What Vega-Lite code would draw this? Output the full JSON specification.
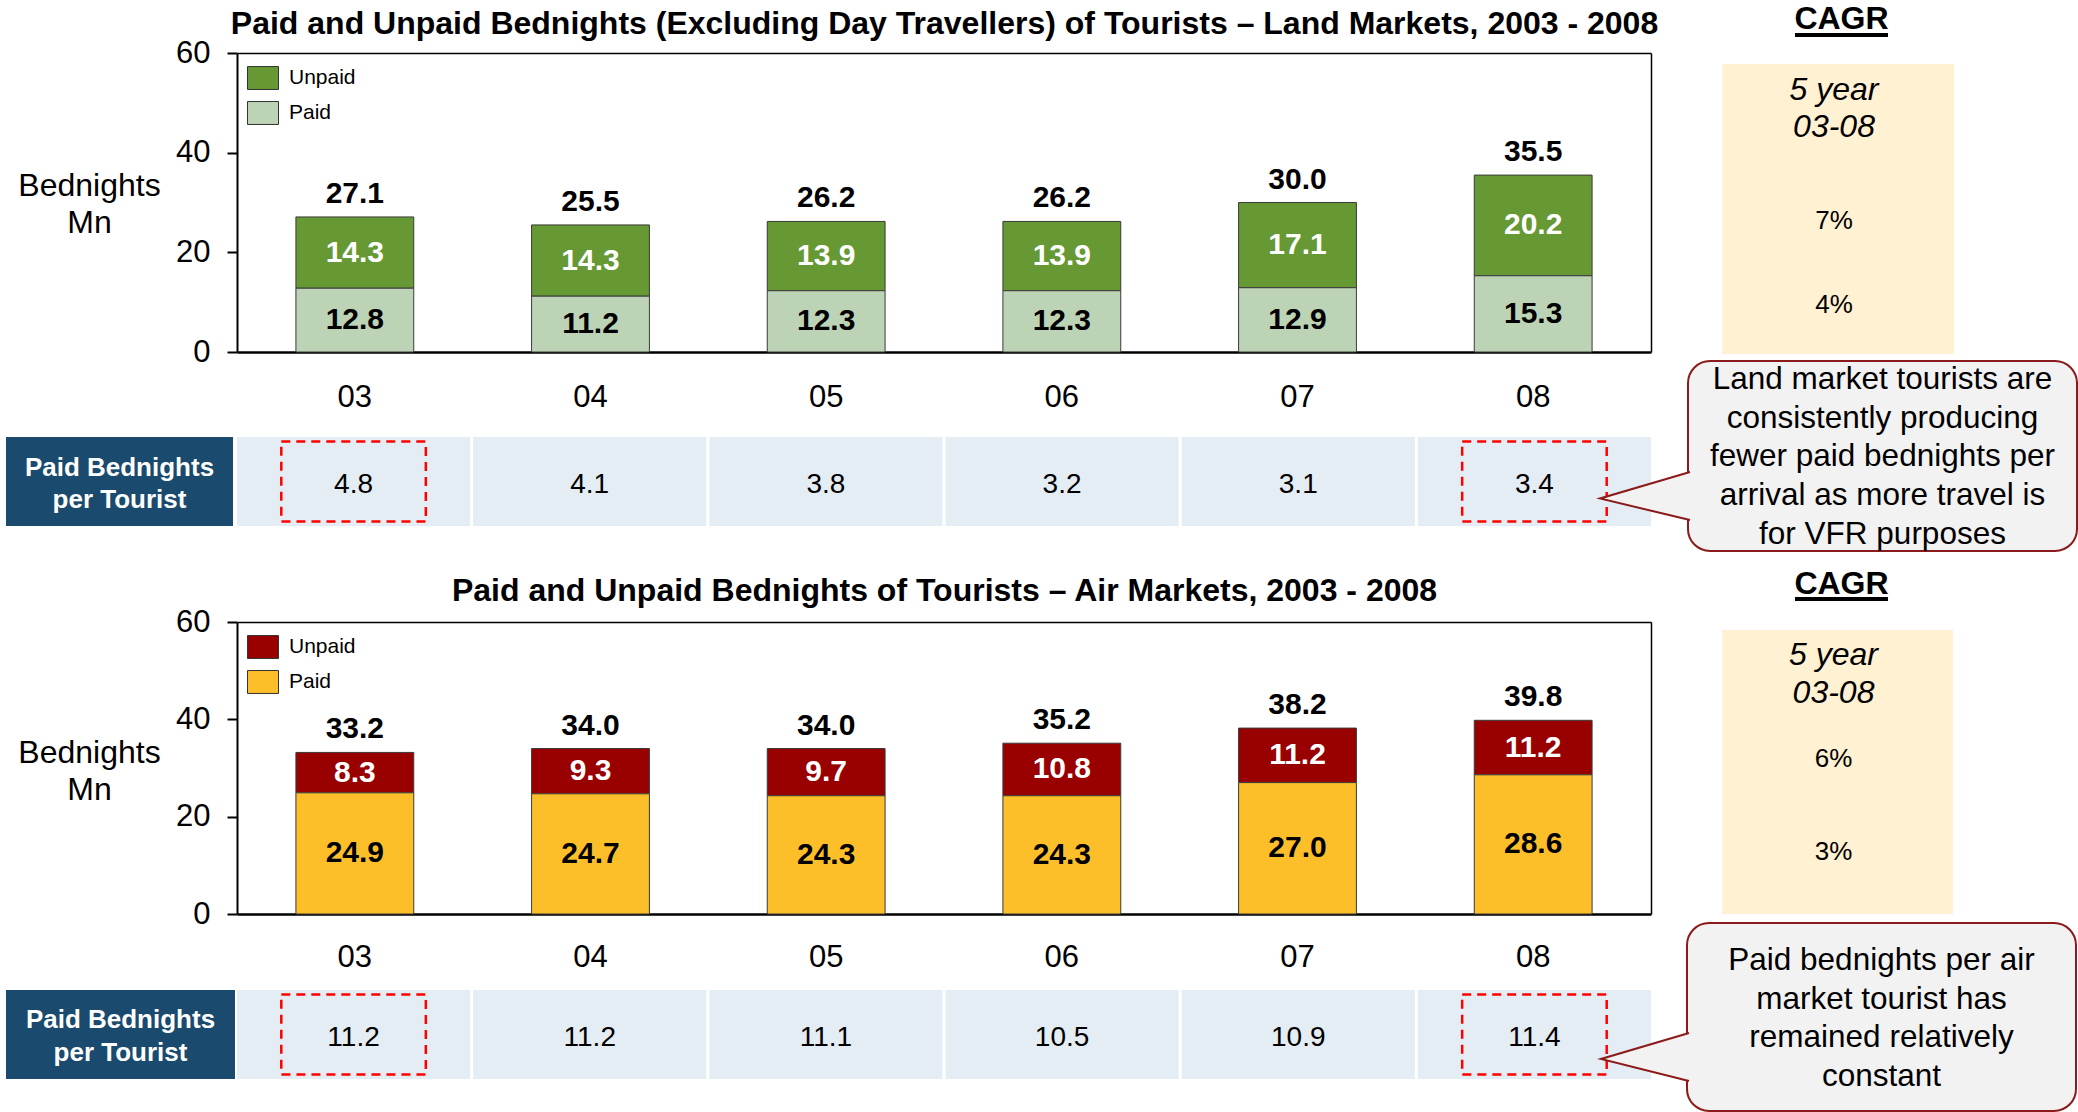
{
  "$schema": "https://vega.github.io/schema/vega-lite/v6.json",
  "width": 2078,
  "height": 1112,
  "autosize": {"type": "none"},
  "padding": 0,
  "background": "#ffffff",
  "config": {
    "font": "Liberation Sans",
    "view": {"stroke": null},
    "text": {"color": "#000000"},
    "axis": {"labelFont": "Liberation Sans", "titleFont": "Liberation Sans", "labelColor": "#000000", "titleColor": "#000000", "domainColor": "#000000", "tickColor": "#000000"},
    "legend": {"labelFont": "Liberation Sans"}
  },
  "datasets": {
    "land": [
      {"year": "03", "Unpaid": 14.3, "Paid": 12.8, "Total": 27.1, "PerTourist": 4.8},
      {"year": "04", "Unpaid": 14.3, "Paid": 11.2, "Total": 25.5, "PerTourist": 4.1},
      {"year": "05", "Unpaid": 13.9, "Paid": 12.3, "Total": 26.2, "PerTourist": 3.8},
      {"year": "06", "Unpaid": 13.9, "Paid": 12.3, "Total": 26.2, "PerTourist": 3.2},
      {"year": "07", "Unpaid": 17.1, "Paid": 12.9, "Total": 30.0, "PerTourist": 3.1},
      {"year": "08", "Unpaid": 20.2, "Paid": 15.3, "Total": 35.5, "PerTourist": 3.4}
    ],
    "air": [
      {"year": "03", "Unpaid": 8.3, "Paid": 24.9, "Total": 33.2, "PerTourist": 11.2},
      {"year": "04", "Unpaid": 9.3, "Paid": 24.7, "Total": 34.0, "PerTourist": 11.2},
      {"year": "05", "Unpaid": 9.7, "Paid": 24.3, "Total": 34.0, "PerTourist": 11.1},
      {"year": "06", "Unpaid": 10.8, "Paid": 24.3, "Total": 35.2, "PerTourist": 10.5},
      {"year": "07", "Unpaid": 11.2, "Paid": 27.0, "Total": 38.2, "PerTourist": 10.9},
      {"year": "08", "Unpaid": 11.2, "Paid": 28.6, "Total": 39.8, "PerTourist": 11.4}
    ],
    "cagr_land": [
      {"item": "period", "label": ["5 year", "03-08"]},
      {"item": "Unpaid", "cagr": 0.07},
      {"item": "Paid", "cagr": 0.04}
    ],
    "cagr_air": [
      {"item": "period", "label": ["5 year", "03-08"]},
      {"item": "Unpaid", "cagr": 0.06},
      {"item": "Paid", "cagr": 0.03}
    ]
  },
  "resolve": {"scale": {"x": "independent", "y": "independent", "color": "independent"}, "axis": {"x": "independent", "y": "independent"}, "legend": {"color": "independent"}},
  "layer": [
    {
      "data": {"name": "land"},
      "resolve": {"axis": {"x": "independent", "y": "independent"}},
      "layer": [
        {
          "transform": [{"fold": ["Unpaid", "Paid"], "as": ["series", "value"]}],
          "mark": {"type": "bar", "stroke": "#3a3a3a", "strokeWidth": 1},
          "encoding": {
            "x": {"field": "year", "type": "ordinal", "scale": {"range": [237, 1651], "paddingInner": 0.5, "paddingOuter": 0.25},
              "axis": {"orient": "bottom", "offset": -760, "title": null, "ticks": false, "tickSize": 0, "domainWidth": 2.5, "labelFontSize": 31, "labelPadding": 45, "labelBaseline": "middle", "labelAngle": 0}},
            "y": {"field": "value", "type": "quantitative", "stack": "zero", "scale": {"domain": [0, 60], "range": [352, 53], "nice": false},
              "axis": {"orient": "left", "offset": -237, "title": ["Bednights", "Mn"], "values": [0, 20, 40, 60], "grid": false, "domainWidth": 2, "tickWidth": 2, "tickSize": 10, "labelFontSize": 31, "labelPadding": 17, "labelFlush": false, "labelOverlap": false, "titleFontSize": 32, "titleFontWeight": "normal", "titleAngle": 0, "titleAlign": "center", "titleBaseline": "middle", "titleX": -148, "titleY": 185, "titleLineHeight": 37}},
            "color": {"field": "series", "type": "nominal", "scale": {"domain": ["Unpaid", "Paid"], "range": ["#669933", "#bdd3b6"]},
              "legend": {"title": null, "orient": "none", "legendX": 247, "legendY": 62, "direction": "vertical", "padding": 0, "labelFontSize": 21, "labelColor": "#000000", "labelOffset": 10, "symbolType": "M-1,-0.74L1,-0.74L1,0.74L-1,0.74Z", "symbolSize": 961, "symbolStrokeColor": "#333333", "symbolStrokeWidth": 1, "rowPadding": 5}},
            "order": {"field": "series", "type": "nominal", "sort": "ascending"}
          }
        },
        {
          "transform": [{"fold": ["Unpaid", "Paid"], "as": ["series", "value"]}],
          "mark": {"type": "text", "fontSize": 30, "fontWeight": "bold", "baseline": "middle"},
          "encoding": {
            "x": {"field": "year", "type": "ordinal", "axis": null},
            "y": {"field": "value", "type": "quantitative", "stack": "zero", "bandPosition": 0.5, "axis": null},
            "detail": {"field": "series"},
            "order": {"field": "series", "type": "nominal", "sort": "ascending"},
            "text": {"field": "value", "type": "quantitative", "format": ".1f"},
            "color": {"condition": {"test": "datum.series === 'Unpaid'", "value": "#ffffff"}, "value": "#000000"}
          }
        },
        {
          "mark": {"type": "text", "fontSize": 30, "fontWeight": "bold", "baseline": "middle", "dy": -23},
          "encoding": {
            "x": {"field": "year", "type": "ordinal",
              "axis": {"orient": "top", "offset": -53, "title": "Paid and Unpaid Bednights (Excluding Day Travellers) of Tourists – Land Markets, 2003 - 2008", "titleFontSize": 32, "titleFontWeight": "bold", "titlePadding": 30, "titleBaseline": "middle", "labels": false, "ticks": false, "domainWidth": 1.5}},
            "y": {"field": "Total", "type": "quantitative",
              "axis": {"orient": "right", "offset": -427, "title": null, "labels": false, "ticks": false, "grid": false, "domainWidth": 1.5}},
            "text": {"field": "Total", "type": "quantitative", "format": ".1f"}
          }
        }
      ]
    },
    {
      "data": {"name": "land"},
      "encoding": {
        "x": {"field": "year", "type": "ordinal", "scale": {"range": [237, 1651], "paddingInner": 0.013, "paddingOuter": 0}, "axis": null},
        "y": {"datum": "Paid Bednights per Tourist", "type": "nominal", "scale": {"type": "band", "domain": ["Paid Bednights per Tourist"], "range": [437, 526], "paddingInner": 0, "paddingOuter": 0}, "axis": null}
      },
      "layer": [
        {"mark": {"type": "rect", "fill": "#e4edf3"}},
        {"mark": {"type": "text", "fontSize": 28, "baseline": "middle", "dy": 3}, "encoding": {"text": {"field": "PerTourist", "type": "quantitative", "format": ".1f"}}},
        {"transform": [{"filter": {"field": "year", "oneOf": ["03", "08"]}}],
          "mark": {"type": "rect", "fill": null, "fillOpacity": 0, "stroke": "#ff0000", "strokeWidth": 2.5, "strokeDash": [9, 6], "width": {"band": 0.62}, "height": {"band": 0.9}}}
      ]
    },
    {
      "data": {"values": [{"label": ["Paid Bednights", "per Tourist"]}]},
      "encoding": {
        "x": {"datum": "Paid Bednights per Tourist", "type": "nominal", "scale": {"type": "band", "domain": ["Paid Bednights per Tourist"], "range": [6, 233], "paddingInner": 0, "paddingOuter": 0}, "axis": null},
        "y": {"datum": "Paid Bednights per Tourist", "type": "nominal", "scale": {"type": "band", "domain": ["Paid Bednights per Tourist"], "range": [437, 526], "paddingInner": 0, "paddingOuter": 0}, "axis": null}
      },
      "layer": [
        {"mark": {"type": "rect", "fill": "#1a4a6e"}},
        {"mark": {"type": "text", "color": "#ffffff", "fontSize": 26, "fontWeight": "bold", "lineHeight": 32, "baseline": "middle", "dy": -13.5}, "encoding": {"text": {"field": "label"}}}
      ]
    },
    {
      "data": {"values": [{"head": "CAGR"}]},
      "encoding": {"x": {"datum": "CAGR", "type": "nominal", "scale": {"type": "band", "domain": ["CAGR"], "range": [1795, 1888], "paddingInner": 0, "paddingOuter": 0}, "axis": null}},
      "resolve": {"scale": {"y": "independent"}},
      "layer": [
        {"mark": {"type": "rect", "fill": "#000000"}, "encoding": {"y": {"datum": "CAGR", "type": "nominal", "scale": {"type": "band", "domain": ["CAGR"], "range": [33, 37], "paddingInner": 0, "paddingOuter": 0}, "axis": null}}},
        {"mark": {"type": "text", "fontSize": 32, "fontWeight": "bold", "baseline": "middle"}, "encoding": {"y": {"datum": "CAGR", "type": "nominal", "scale": {"type": "band", "domain": ["CAGR"], "range": [3, 35], "paddingInner": 0, "paddingOuter": 0}, "axis": null}, "text": {"field": "head"}}}
      ]
    },
    {
      "data": {"name": "cagr_land"},
      "encoding": {"x": {"datum": "CAGR", "type": "nominal", "scale": {"type": "band", "domain": ["CAGR"], "range": [1722, 1954], "paddingInner": 0, "paddingOuter": 0}, "axis": null}},
      "resolve": {"scale": {"y": "independent"}},
      "layer": [
        {"transform": [{"filter": "datum.item === 'period'"}], "mark": {"type": "rect", "fill": "#fff1d2"},
          "encoding": {"y": {"datum": "CAGR", "type": "nominal", "scale": {"type": "band", "domain": ["CAGR"], "range": [64, 354], "paddingInner": 0, "paddingOuter": 0}, "axis": null}}},
        {"transform": [{"filter": "datum.item === 'period'"}], "mark": {"type": "text", "fontSize": 32, "fontStyle": "italic", "lineHeight": 37, "baseline": "middle", "dy": -18, "dx": -4},
          "encoding": {"y": {"field": "item", "type": "nominal", "scale": {"type": "band", "domain": ["period"], "range": [70, 146], "paddingInner": 0, "paddingOuter": 0}, "axis": null}, "text": {"field": "label"}}},
        {"transform": [{"filter": "datum.item !== 'period'"}], "mark": {"type": "text", "fontSize": 26, "baseline": "middle", "dx": -4},
          "encoding": {"y": {"field": "item", "type": "nominal", "scale": {"type": "point", "domain": ["Unpaid", "Paid"], "range": [221, 305], "padding": 0}, "axis": null}, "text": {"field": "cagr", "type": "quantitative", "format": ".0%"}}}
      ]
    },
    {
      "data": {"values": [{"note": ["Land market tourists are", "consistently producing", "fewer paid bednights per", "arrival as more travel is", "for VFR purposes"]}]},
      "encoding": {
        "x": {"datum": "note", "type": "nominal", "scale": {"type": "band", "domain": ["note"], "range": [1688, 2077], "paddingInner": 0, "paddingOuter": 0}, "axis": null},
        "y": {"datum": "note", "type": "nominal", "scale": {"type": "band", "domain": ["note"], "range": [361, 551], "paddingInner": 0, "paddingOuter": 0}, "axis": null}
      },
      "layer": [
        {"mark": {"type": "rect", "fill": "#f2f2f2", "stroke": "#8b1a1a", "strokeWidth": 2, "cornerRadius": 22}},
        {"mark": {"type": "point", "shape": "M-1.925,0.16L-2.825,0.425L-1.925,0.64", "size": 40000, "filled": true, "fill": "#f2f2f2", "stroke": "#8b1a1a", "strokeWidth": 2, "opacity": 1}},
        {"mark": {"type": "text", "fontSize": 31.5, "lineHeight": 38.7, "baseline": "middle", "dy": -76}, "encoding": {"text": {"field": "note"}}}
      ]
    },
    {
      "data": {"name": "air"},
      "resolve": {"axis": {"x": "independent", "y": "independent"}},
      "layer": [
        {
          "transform": [{"fold": ["Unpaid", "Paid"], "as": ["series", "value"]}],
          "mark": {"type": "bar", "stroke": "#3a3a3a", "strokeWidth": 1},
          "encoding": {
            "x": {"field": "year", "type": "ordinal", "scale": {"range": [237, 1651], "paddingInner": 0.5, "paddingOuter": 0.25},
              "axis": {"orient": "bottom", "offset": -198, "title": null, "ticks": false, "tickSize": 0, "domainWidth": 2.5, "labelFontSize": 31, "labelPadding": 43, "labelBaseline": "middle", "labelAngle": 0}},
            "y": {"field": "value", "type": "quantitative", "stack": "zero", "scale": {"domain": [0, 60], "range": [914, 622], "nice": false},
              "axis": {"orient": "left", "offset": -237, "title": ["Bednights", "Mn"], "values": [0, 20, 40, 60], "grid": false, "domainWidth": 2, "tickWidth": 2, "tickSize": 10, "labelFontSize": 31, "labelPadding": 17, "labelFlush": false, "labelOverlap": false, "titleFontSize": 32, "titleFontWeight": "normal", "titleAngle": 0, "titleAlign": "center", "titleBaseline": "middle", "titleX": -148, "titleY": 752, "titleLineHeight": 37}},
            "color": {"field": "series", "type": "nominal", "scale": {"domain": ["Unpaid", "Paid"], "range": ["#990000", "#fcbf29"]},
              "legend": {"title": null, "orient": "none", "legendX": 247, "legendY": 631, "direction": "vertical", "padding": 0, "labelFontSize": 21, "labelColor": "#000000", "labelOffset": 10, "symbolType": "M-1,-0.74L1,-0.74L1,0.74L-1,0.74Z", "symbolSize": 961, "symbolStrokeColor": "#333333", "symbolStrokeWidth": 1, "rowPadding": 5}},
            "order": {"field": "series", "type": "nominal", "sort": "ascending"}
          }
        },
        {
          "transform": [{"fold": ["Unpaid", "Paid"], "as": ["series", "value"]}],
          "mark": {"type": "text", "fontSize": 30, "fontWeight": "bold", "baseline": "middle"},
          "encoding": {
            "x": {"field": "year", "type": "ordinal", "axis": null},
            "y": {"field": "value", "type": "quantitative", "stack": "zero", "bandPosition": 0.5, "axis": null},
            "detail": {"field": "series"},
            "order": {"field": "series", "type": "nominal", "sort": "ascending"},
            "text": {"field": "value", "type": "quantitative", "format": ".1f"},
            "color": {"condition": {"test": "datum.series === 'Unpaid'", "value": "#ffffff"}, "value": "#000000"}
          }
        },
        {
          "mark": {"type": "text", "fontSize": 30, "fontWeight": "bold", "baseline": "middle", "dy": -23},
          "encoding": {
            "x": {"field": "year", "type": "ordinal",
              "axis": {"orient": "top", "offset": -622, "title": "Paid and Unpaid Bednights of Tourists – Air Markets, 2003 - 2008", "titleFontSize": 32, "titleFontWeight": "bold", "titlePadding": 32, "titleBaseline": "middle", "labels": false, "ticks": false, "domainWidth": 1.5}},
            "y": {"field": "Total", "type": "quantitative",
              "axis": {"orient": "right", "offset": -427, "title": null, "labels": false, "ticks": false, "grid": false, "domainWidth": 1.5}},
            "text": {"field": "Total", "type": "quantitative", "format": ".1f"}
          }
        }
      ]
    },
    {
      "data": {"name": "air"},
      "encoding": {
        "x": {"field": "year", "type": "ordinal", "scale": {"range": [237, 1651], "paddingInner": 0.013, "paddingOuter": 0}, "axis": null},
        "y": {"datum": "Paid Bednights per Tourist", "type": "nominal", "scale": {"type": "band", "domain": ["Paid Bednights per Tourist"], "range": [990, 1079], "paddingInner": 0, "paddingOuter": 0}, "axis": null}
      },
      "layer": [
        {"mark": {"type": "rect", "fill": "#e4edf3"}},
        {"mark": {"type": "text", "fontSize": 28, "baseline": "middle", "dy": 3}, "encoding": {"text": {"field": "PerTourist", "type": "quantitative", "format": ".1f"}}},
        {"transform": [{"filter": {"field": "year", "oneOf": ["03", "08"]}}],
          "mark": {"type": "rect", "fill": null, "fillOpacity": 0, "stroke": "#ff0000", "strokeWidth": 2.5, "strokeDash": [9, 6], "width": {"band": 0.62}, "height": {"band": 0.9}}}
      ]
    },
    {
      "data": {"values": [{"label": ["Paid Bednights", "per Tourist"]}]},
      "encoding": {
        "x": {"datum": "Paid Bednights per Tourist", "type": "nominal", "scale": {"type": "band", "domain": ["Paid Bednights per Tourist"], "range": [6, 235], "paddingInner": 0, "paddingOuter": 0}, "axis": null},
        "y": {"datum": "Paid Bednights per Tourist", "type": "nominal", "scale": {"type": "band", "domain": ["Paid Bednights per Tourist"], "range": [990, 1079], "paddingInner": 0, "paddingOuter": 0}, "axis": null}
      },
      "layer": [
        {"mark": {"type": "rect", "fill": "#1a4a6e"}},
        {"mark": {"type": "text", "color": "#ffffff", "fontSize": 26, "fontWeight": "bold", "lineHeight": 33, "baseline": "middle", "dy": -15}, "encoding": {"text": {"field": "label"}}}
      ]
    },
    {
      "data": {"values": [{"head": "CAGR"}]},
      "encoding": {"x": {"datum": "CAGR", "type": "nominal", "scale": {"type": "band", "domain": ["CAGR"], "range": [1795, 1888], "paddingInner": 0, "paddingOuter": 0}, "axis": null}},
      "resolve": {"scale": {"y": "independent"}},
      "layer": [
        {"mark": {"type": "rect", "fill": "#000000"}, "encoding": {"y": {"datum": "CAGR", "type": "nominal", "scale": {"type": "band", "domain": ["CAGR"], "range": [597, 601], "paddingInner": 0, "paddingOuter": 0}, "axis": null}}},
        {"mark": {"type": "text", "fontSize": 32, "fontWeight": "bold", "baseline": "middle"}, "encoding": {"y": {"datum": "CAGR", "type": "nominal", "scale": {"type": "band", "domain": ["CAGR"], "range": [568, 600], "paddingInner": 0, "paddingOuter": 0}, "axis": null}, "text": {"field": "head"}}}
      ]
    },
    {
      "data": {"name": "cagr_air"},
      "encoding": {"x": {"datum": "CAGR", "type": "nominal", "scale": {"type": "band", "domain": ["CAGR"], "range": [1722, 1953], "paddingInner": 0, "paddingOuter": 0}, "axis": null}},
      "resolve": {"scale": {"y": "independent"}},
      "layer": [
        {"transform": [{"filter": "datum.item === 'period'"}], "mark": {"type": "rect", "fill": "#fff1d2"},
          "encoding": {"y": {"datum": "CAGR", "type": "nominal", "scale": {"type": "band", "domain": ["CAGR"], "range": [630, 914], "paddingInner": 0, "paddingOuter": 0}, "axis": null}}},
        {"transform": [{"filter": "datum.item === 'period'"}], "mark": {"type": "text", "fontSize": 32, "fontStyle": "italic", "lineHeight": 38, "baseline": "middle", "dy": -19, "dx": -4},
          "encoding": {"y": {"field": "item", "type": "nominal", "scale": {"type": "band", "domain": ["period"], "range": [636, 712], "paddingInner": 0, "paddingOuter": 0}, "axis": null}, "text": {"field": "label"}}},
        {"transform": [{"filter": "datum.item !== 'period'"}], "mark": {"type": "text", "fontSize": 26, "baseline": "middle", "dx": -4},
          "encoding": {"y": {"field": "item", "type": "nominal", "scale": {"type": "point", "domain": ["Unpaid", "Paid"], "range": [759, 852], "padding": 0}, "axis": null}, "text": {"field": "cagr", "type": "quantitative", "format": ".0%"}}}
      ]
    },
    {
      "data": {"values": [{"note": ["Paid bednights per air", "market tourist has", "remained relatively", "constant"]}]},
      "encoding": {
        "x": {"datum": "note", "type": "nominal", "scale": {"type": "band", "domain": ["note"], "range": [1687, 2076], "paddingInner": 0, "paddingOuter": 0}, "axis": null},
        "y": {"datum": "note", "type": "nominal", "scale": {"type": "band", "domain": ["note"], "range": [923, 1111], "paddingInner": 0, "paddingOuter": 0}, "axis": null}
      },
      "layer": [
        {"mark": {"type": "rect", "fill": "#f2f2f2", "stroke": "#8b1a1a", "strokeWidth": 2, "cornerRadius": 22}},
        {"mark": {"type": "point", "shape": "M-1.925,0.16L-2.805,0.42L-1.925,0.64", "size": 40000, "filled": true, "fill": "#f2f2f2", "stroke": "#8b1a1a", "strokeWidth": 2, "opacity": 1}},
        {"mark": {"type": "text", "fontSize": 31.5, "lineHeight": 38.7, "baseline": "middle", "dy": -56}, "encoding": {"text": {"field": "note"}}}
      ]
    }
  ]
}
